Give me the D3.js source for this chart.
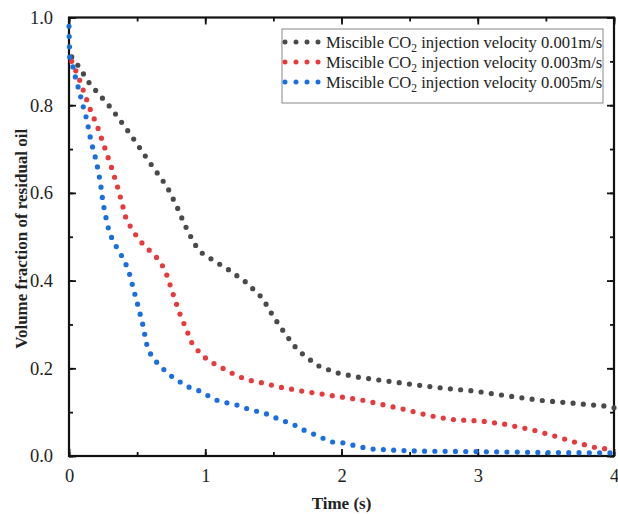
<!DOCTYPE html>
<html>
<head>
<meta charset="utf-8">
<script src="https://cdn.jsdelivr.net/npm/d3@7"></script>
<style>
  body { margin: 0; background: #fff; }
  svg text { font-family: "Liberation Serif", "Times New Roman", serif; fill: #222; }
</style>
</head>
<body>
<div id="chart"></div>
<script>
// tick values
const xTicks = [0, 1, 2, 3, 4];
const yTicks = [0.0, 0.2, 0.4, 0.6, 0.8, 1.0];

// series: 0.001 m/s
const time1 = [0.02, 0.07, 0.15, 0.31, 0.45, 0.58, 0.72, 0.79, 0.85, 0.92, 0.97, 1.04, 1.18, 1.30, 1.42, 1.50, 1.59, 1.68, 1.82, 1.96, 2.12, 2.28, 2.50, 2.74, 2.98, 3.13, 3.46, 3.93, 4.0];
const frac1 = [0.91, 0.889, 0.85, 0.793, 0.734, 0.675, 0.614, 0.57, 0.527, 0.484, 0.464, 0.45, 0.423, 0.396, 0.36, 0.318, 0.277, 0.241, 0.207, 0.19, 0.18, 0.173, 0.164, 0.155, 0.148, 0.141, 0.127, 0.114, 0.11];

// series: 0.003 m/s
const time3 = [0.02, 0.07, 0.15, 0.21, 0.26, 0.31, 0.36, 0.42, 0.46, 0.51, 0.56, 0.62, 0.67, 0.71, 0.76, 0.81, 0.87, 0.9, 0.95, 1.02, 1.1, 1.17, 1.24, 1.32, 1.40, 1.55, 1.71, 1.86, 2.01, 2.16, 2.32, 2.48, 2.63, 2.79, 2.87, 3.02, 3.19, 3.33, 3.41, 3.57, 3.73, 3.88, 3.96];
const frac3 = [0.9, 0.864, 0.795, 0.75, 0.705, 0.66, 0.61, 0.54, 0.518, 0.495, 0.477, 0.461, 0.443, 0.42, 0.373, 0.327, 0.282, 0.259, 0.239, 0.218, 0.205, 0.193, 0.182, 0.173, 0.168, 0.157, 0.148, 0.141, 0.134, 0.127, 0.116, 0.105, 0.093, 0.084, 0.082, 0.08, 0.073, 0.064, 0.059, 0.045, 0.03, 0.018, 0.016];

// series: 0.005 m/s
const time5 = [0, 0.005, 0.03, 0.05, 0.07, 0.09, 0.11, 0.13, 0.16, 0.2, 0.23, 0.25, 0.28, 0.3, 0.33, 0.37, 0.41, 0.44, 0.48, 0.5, 0.54, 0.57, 0.6, 0.65, 0.71, 0.76, 0.82, 0.88, 0.96, 1.03, 1.1, 1.18, 1.26, 1.33, 1.41, 1.48, 1.55, 1.63, 1.71, 1.78, 1.86, 1.93, 2.01, 2.08, 2.15, 2.22, 2.4, 2.6, 3.0, 3.5, 4.0];
const frac5 = [0.98, 0.91, 0.886, 0.86, 0.838, 0.814, 0.79, 0.768, 0.72, 0.673, 0.625, 0.577, 0.53, 0.507, 0.486, 0.466, 0.443, 0.42, 0.373, 0.35, 0.302, 0.255, 0.232, 0.211, 0.193, 0.18, 0.168, 0.157, 0.148, 0.136, 0.125, 0.12, 0.114, 0.105, 0.1, 0.093, 0.082, 0.075, 0.061, 0.052, 0.041, 0.032, 0.03, 0.025, 0.02, 0.016, 0.013, 0.011, 0.01, 0.008, 0.007];

const labels = ['0.001m/s', '0.003m/s', '0.005m/s'];
const colors = ['#4a4a4a', '#e8393d', '#1a6ee0'];

const W = 618, H = 514;
const padL = 69, padR = 614, padT = 17.5, padB = 456;

const svg = d3.select('#chart').append('svg')
  .attr('width', W).attr('height', H);

const x = d3.scaleLinear().domain([0, 4]).range([padL, padR]);
const y = d3.scaleLinear().domain([0, 1]).range([padB, padT]);

// axes, ticks inward on all four sides
function styleAxis(g) {
  g.select('.domain').remove();
  g.selectAll('line').attr('stroke', '#111').attr('stroke-width', 1.8);
  g.selectAll('text').attr('font-size', 18.5).attr('fill', '#222');
}

const xMinor = d3.range(0, 4.01, 0.5);
const yMinor = d3.range(0, 1.001, 0.1);

svg.append('g').attr('transform', 'translate(0,' + padB + ')')
  .call(d3.axisBottom(x).tickValues(xMinor).tickSize(-4).tickFormat(''))
  .call(styleAxis);
svg.append('g').attr('transform', 'translate(0,' + padB + ')')
  .call(d3.axisBottom(x).tickValues(xTicks).tickSize(-7).tickPadding(13).tickFormat(d3.format('d')))
  .call(styleAxis);
svg.append('g').attr('transform', 'translate(0,' + padT + ')')
  .call(d3.axisTop(x).tickValues(xMinor).tickSize(-4).tickFormat(''))
  .call(styleAxis);
svg.append('g').attr('transform', 'translate(0,' + padT + ')')
  .call(d3.axisTop(x).tickValues(xTicks).tickSize(-7).tickFormat(''))
  .call(styleAxis);

svg.append('g').attr('transform', 'translate(' + padL + ',0)')
  .call(d3.axisLeft(y).tickValues(yMinor).tickSize(-4).tickFormat(''))
  .call(styleAxis);
svg.append('g').attr('transform', 'translate(' + padL + ',0)')
  .call(d3.axisLeft(y).tickValues(yTicks).tickSize(-7).tickPadding(16).tickFormat(d3.format('.1f')))
  .call(styleAxis);
svg.append('g').attr('transform', 'translate(' + padR + ',0)')
  .call(d3.axisRight(y).tickValues(yMinor).tickSize(-4).tickFormat(''))
  .call(styleAxis);
svg.append('g').attr('transform', 'translate(' + padR + ',0)')
  .call(d3.axisRight(y).tickValues(yTicks).tickSize(-7).tickFormat(''))
  .call(styleAxis);

// frame
svg.append('rect')
  .attr('x', padL).attr('y', padT)
  .attr('width', padR - padL).attr('height', padB - padT)
  .attr('fill', 'none').attr('stroke', '#111').attr('stroke-width', 2.2);

// dotted curves
const line = d3.line().x(d => x(d[0])).y(d => y(d[1]));
const series = [d3.zip(time1, frac1), d3.zip(time3, frac3), d3.zip(time5, frac5)];

svg.append('clipPath').attr('id', 'plot')
  .append('rect').attr('x', padL - 3).attr('y', padT - 3)
  .attr('width', padR - padL + 6).attr('height', padB - padT + 6);

series.forEach((s, i) => {
  svg.append('path')
    .datum(s)
    .attr('d', line)
    .attr('fill', 'none')
    .attr('stroke', colors[i])
    .attr('stroke-width', 5.2)
    .attr('stroke-linecap', 'round')
    .attr('stroke-dasharray', '0 10.3')
    .attr('clip-path', 'url(#plot)');
});

// legend
const legend = svg.append('g');
legend.append('rect')
  .attr('x', 282).attr('y', 29).attr('width', 321).attr('height', 74)
  .attr('fill', '#fff').attr('stroke', '#888').attr('stroke-width', 1);

labels.forEach((lab, i) => {
  const ly = 42 + i * 20;
  legend.append('line')
    .attr('x1', 285).attr('x2', 320).attr('y1', ly).attr('y2', ly)
    .attr('stroke', colors[i]).attr('stroke-width', 5)
    .attr('stroke-linecap', 'round').attr('stroke-dasharray', '0 11');
  const t = legend.append('text')
    .attr('x', 326).attr('y', ly + 5.5)
    .attr('font-size', 16.6);
  t.append('tspan').text('Miscible CO');
  t.append('tspan').attr('font-size', 11.5).attr('dy', 4).text('2');
  t.append('tspan').attr('dy', -4).text(' injection velocity ' + lab);
});

// axis titles
svg.append('text')
  .attr('x', (padL + padR) / 2).attr('y', 509)
  .attr('text-anchor', 'middle')
  .attr('font-size', 17).attr('font-weight', 'bold')
  .text('Time (s)');

svg.append('text')
  .attr('transform', 'translate(27,' + ((padT + padB) / 2 + 2) + ') rotate(-90)')
  .attr('text-anchor', 'middle')
  .attr('font-size', 17).attr('font-weight', 'bold')
  .text('Volume fraction of residual oil');
</script>
</body>
</html>
